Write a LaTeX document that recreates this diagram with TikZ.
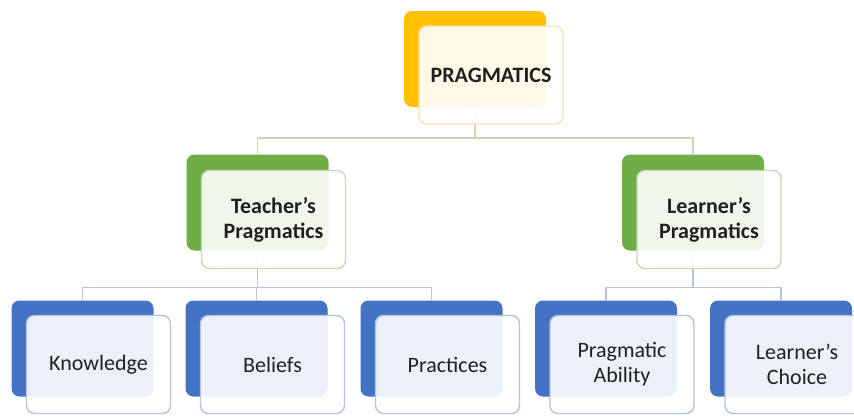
\documentclass[tikz,border=0pt]{standalone}
\usepackage{fontspec}
\setmainfont{Carlito}
\usetikzlibrary{backgrounds,calc}

\definecolor{gold}{HTML}{FFC000}
\definecolor{leaf}{HTML}{70AD47}
\definecolor{royal}{HTML}{4472C4}
\definecolor{goldline}{HTML}{F0E2AE}
\definecolor{leafline}{HTML}{C5DAB4}
\definecolor{royalline}{HTML}{B4C3DE}
\definecolor{ink}{HTML}{202020}

\begin{document}
\begin{tikzpicture}[x=1pt,y=-1pt]
        \tikzstyle{back}=[rectangle,rounded corners=8pt,minimum width=142pt,minimum height=96pt,inner sep=0pt]
        \tikzstyle{front}=[rectangle,rounded corners=8pt,minimum width=144pt,minimum height=98pt,inner sep=0pt,
                fill=white,fill opacity=0.9,text opacity=1,draw,line width=1.4pt,align=center,text=ink,
                font=\fontsize{22}{25}\selectfont]
        \tikzstyle{link}=[line width=1.5pt]
        \useasboundingbox (0,0) rectangle (854,415);
        % top level
        \node[back,fill=gold] (prag) at (475,59) {};
        \node[front,draw=goldline,font=\fontsize{22}{25}\selectfont\bfseries] (praglbl) at ($(prag)+(16,16)$) {PRAGMATICS};
        % second level
        \node[back,fill=leaf] (teach) at (257.5,202.5) {};
        \node[front,draw=leafline,font=\fontsize{22}{25}\selectfont\bfseries] (teachlbl) at ($(teach)+(16,17)$) {Teacher’s\\Pragmatics};
        \node[back,fill=leaf] (learn) at (693,202.5) {};
        \node[front,draw=leafline,font=\fontsize{22}{25}\selectfont\bfseries] (learnlbl) at ($(learn)+(16,17)$) {Learner’s\\Pragmatics};
        % third level
        \foreach \name/\x/\txt in {know/82.5/Knowledge, belief/256.5/Beliefs, pract/431.5/Practices,
                ability/606/{Pragmatic\\Ability}, choice/781/{Learner’s\\Choice}} {
                \node[back,fill=royal] (\name) at (\x,348.5) {};
                \node[front,draw=royalline] (\name lbl) at ($(\name)+(16,16)$) {\txt};
        }
        \begin{scope}[on background layer]
                \draw[link,leafline] (prag.south) -- ++(0,31) -| (teach.north);
                \draw[link,leafline] (prag.south) -- ++(0,31) -| (learn.north);
                \draw[link,royalline] (teach.south) -- ++(0,37) -| (know.north);
                \draw[link,royalline] (teach.south) -- ++(0,37) -| (belief.north);
                \draw[link,royalline] (teach.south) -- ++(0,37) -| (pract.north);
                \draw[link,royalline] (learn.south) -- ++(0,37) -| (ability.north);
                \draw[link,royalline] (learn.south) -- ++(0,37) -| (choice.north);
        \end{scope}
\end{tikzpicture}
\end{document}
